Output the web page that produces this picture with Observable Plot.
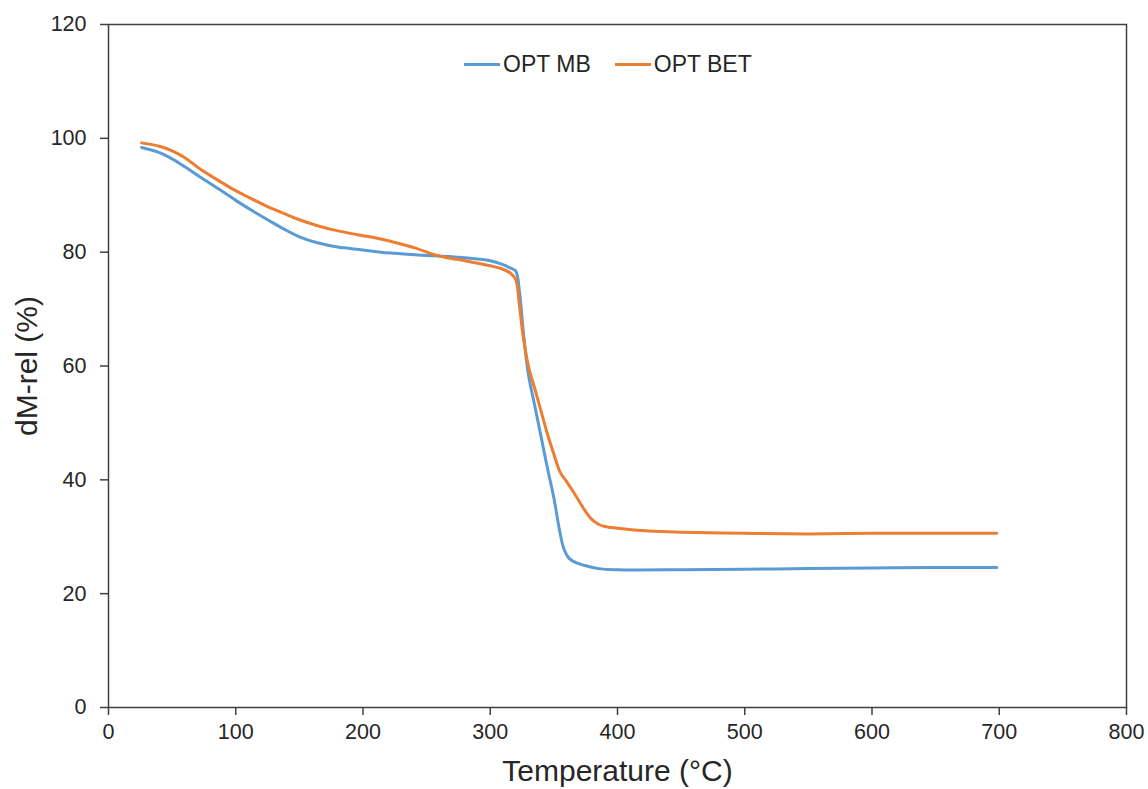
<!DOCTYPE html>
<html>
<head>
<meta charset="utf-8">
<script src="https://cdn.jsdelivr.net/npm/d3@7"></script>
<script src="https://cdn.jsdelivr.net/npm/@observablehq/plot@0.6"></script>
<style>
  html, body { margin: 0; padding: 0; background: #fff; }
  #wrap { position: relative; width: 1148px; height: 789px; font-family: "Liberation Sans", Arial, sans-serif; }
  #legend { position: absolute; top: 51px; left: 464px; display: flex; align-items: center; font-size: 23px; color: #262626; }
  .item { display: flex; align-items: center; margin-right: 24px; }
  .sw { width: 36px; height: 3px; margin-right: 3px; }
</style>
</head>
<body>
<div id="wrap"><div id="legend"></div></div>
<script>
const seriesNames = ["OPT MB", "OPT BET"];
const seriesColors = ["#5B9BD5", "#ED7D31"];

const mbTemp = [26,40,50,60,72,90,100,115,125,140,150,165,180,200,214,225,250,270,290,300,310,316,320,323,326,330,335,340,345,350,355,358,362,367,375,385,400,450,500,550,600,650,698];
const mbMass = [98.4,97.5,96.4,95.0,93.2,90.6,89.1,87.0,85.7,83.8,82.7,81.6,80.9,80.4,80.0,79.8,79.4,79.2,78.8,78.5,77.8,77.2,76.7,73.0,66.0,58.5,53.0,47.5,42.0,36.8,30.5,27.8,26.2,25.5,24.9,24.4,24.2,24.2,24.3,24.4,24.5,24.6,24.6];

const betTemp = [26,40,50,60,72,90,100,115,125,140,150,165,175,190,200,214,225,240,257,269,280,300,310,316,320,323,326,330,335,340,345,350,355,360,365,370,375,380,385,390,400,425,450,500,550,600,650,698];
const betMass = [99.2,98.6,97.8,96.6,94.6,92.1,90.8,89.1,88.0,86.6,85.7,84.6,84.0,83.3,82.9,82.3,81.7,80.8,79.5,78.9,78.5,77.6,77.0,76.3,75.2,70.5,65.0,60.0,56.0,52.0,48.0,44.5,41.3,39.7,38.0,36.2,34.4,33.0,32.2,31.8,31.5,31.0,30.8,30.6,30.5,30.6,30.6,30.6];

const xTicks = [0,100,200,300,400,500,600,700,800];
const yTicks = [0,20,40,60,80,100,120];
const xTitle = "Temperature (°C)";
const yTitle = "dM-rel (%)";

const rows = [
  ...mbTemp.map((t, i) => ({series: seriesNames[0], t, m: mbMass[i]})),
  ...betTemp.map((t, i) => ({series: seriesNames[1], t, m: betMass[i]}))
];

const chart = Plot.plot({
  width: 1148,
  height: 789,
  marginLeft: 108,
  marginRight: 22,
  marginTop: 24,
  marginBottom: 82,
  style: {fontFamily: "'Liberation Sans', Arial, sans-serif", fontSize: "21.5px", color: "#262626", background: "#fff"},
  x: {domain: [0, 800]},
  y: {domain: [0, 120]},
  color: {domain: seriesNames, range: seriesColors},
  marks: [
    Plot.frame({stroke: "#404040", strokeWidth: 1.5}),
    Plot.axisX({ticks: xTicks, tickSize: 8, tickPadding: 8, label: null, stroke: "#404040", strokeWidth: 1.5}),
    Plot.axisY({ticks: yTicks, tickSize: 8, tickPadding: 14, label: null, stroke: "#404040", strokeWidth: 1.5}),
    Plot.line(rows, {x: "t", y: "m", z: "series", stroke: "series", strokeWidth: 3, curve: "catmull-rom"}),
    Plot.text([xTitle], {frameAnchor: "bottom", lineAnchor: "middle", textAnchor: "middle", dy: 64, fontSize: 30, fill: "#262626"}),
    Plot.text([yTitle], {frameAnchor: "left", lineAnchor: "middle", textAnchor: "middle", dx: -81, rotate: -90, fontSize: 30, fill: "#262626"})
  ]
});
document.getElementById("wrap").prepend(chart);
chart.style.position = "absolute";
chart.style.left = "0";
chart.style.top = "0";

const legend = document.getElementById("legend");
seriesNames.forEach((n, i) => {
  const it = document.createElement("div");
  it.className = "item";
  const sw = document.createElement("div");
  sw.className = "sw";
  sw.style.background = seriesColors[i];
  const tx = document.createElement("span");
  tx.textContent = n;
  it.appendChild(sw);
  it.appendChild(tx);
  legend.appendChild(it);
});
</script>
</body>
</html>
